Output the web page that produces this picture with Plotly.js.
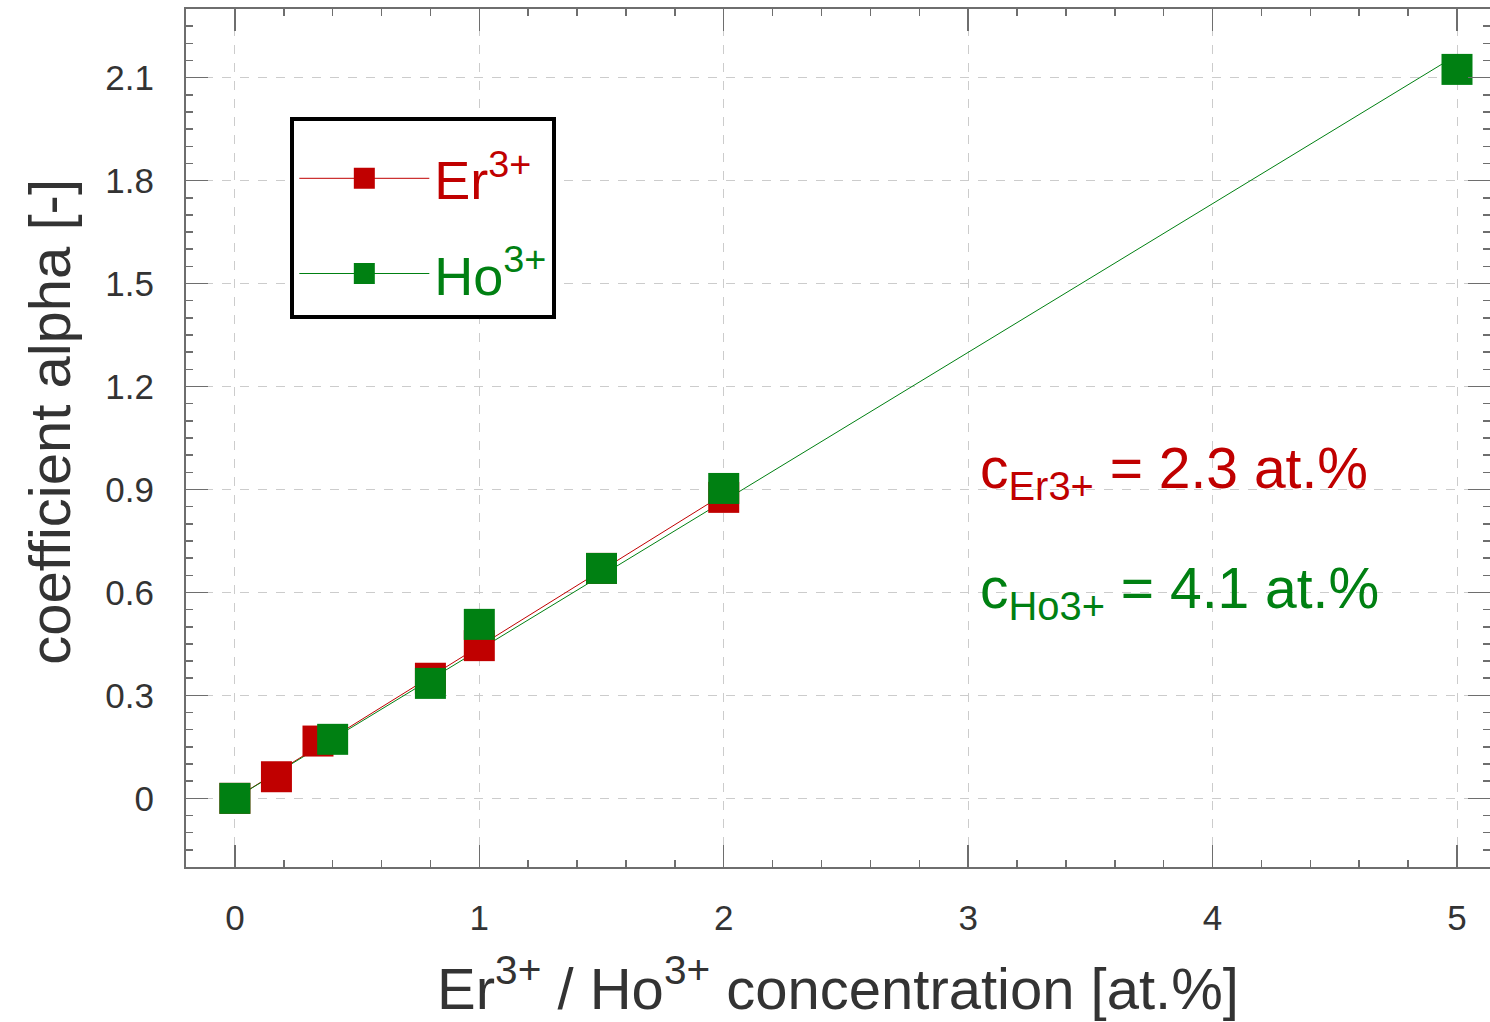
<!DOCTYPE html>
<html>
<head>
<meta charset="utf-8">
<script src="https://cdn.plot.ly/plotly-3.0.1.min.js"></script>
<style>html,body{margin:0;padding:0;background:#fff;}</style>
</head>
<body>
<div id="chart" style="width:1490px;height:1022px;"></div>
<script>
// Er3+ measured points
const erX = [0, 0.17, 0.34, 0.8, 1.0, 1.5, 2.0];
const erY = [0, 0.063, 0.167, 0.35, 0.445, 0.67, 0.877];
// Ho3+ measured points
const hoX = [0, 0.4, 0.8, 1.0, 1.5, 2.0, 5.0];
const hoY = [0, 0.172, 0.335, 0.507, 0.67, 0.903, 2.124];
// linear fit lines (end points)
const erFitX = [0, 2.0];
const erFitY = [0, 0.886];
const hoFitX = [0, 4.94];
const hoFitY = [0, 2.14];

const xTicks = [0, 1, 2, 3, 4, 5];
const yTicks = [0, 0.3, 0.6, 0.9, 1.2, 1.5, 1.8, 2.1];
const yTickText = ['0', '0.3', '0.6', '0.9', '1.2', '1.5', '1.8', '2.1'];

const RED = '#c00000';
const GREEN = '#008012';
const FONT = 'Liberation Sans, Arial, sans-serif';

const traces = [
  {x: erFitX, y: erFitY, mode: 'lines', line: {color: RED, width: 1}, showlegend: false, hoverinfo: 'skip'},
  {x: hoFitX, y: hoFitY, mode: 'lines', line: {color: GREEN, width: 1}, showlegend: false, hoverinfo: 'skip'},
  {x: erX, y: erY, mode: 'markers', marker: {symbol: 'square', size: 31, color: RED}, showlegend: false},
  {x: hoX, y: hoY, mode: 'markers', marker: {symbol: 'square', size: 31, color: GREEN}, showlegend: false},
  // legend entries
  {x: [null], y: [null], mode: 'lines+markers', legendgroup: 'er',
   name: '<span style="color:' + RED + '">Er<sup>3+</sup></span>',
   line: {color: RED, width: 1}, marker: {symbol: 'square', size: 31, color: RED, line: {color: RED, width: 5}}},
  {x: [null], y: [null], mode: 'lines+markers', legendgroup: 'ho',
   name: '<span style="color:' + GREEN + '">Ho<sup>3+</sup></span>',
   line: {color: GREEN, width: 1}, marker: {symbol: 'square', size: 31, color: GREEN, line: {color: GREEN, width: 5}}}
];

const axisCommon = {
  ticks: 'inside', ticklen: 22, tickwidth: 1.5, tickcolor: '#6e6e6e',
  showline: true, linecolor: '#6e6e6e', linewidth: 2, mirror: 'ticks',
  showgrid: true, gridcolor: '#cccccc', griddash: 'dash', gridwidth: 1,
  zeroline: false,
  tickfont: {family: FONT, size: 35, color: '#333333'}
};

const layout = {
  width: 1490, height: 1022,
  margin: {l: 186, r: 0, t: 9, b: 155},
  paper_bgcolor: '#ffffff', plot_bgcolor: '#ffffff',
  font: {family: FONT, color: '#333333'},
  xaxis: Object.assign({}, axisCommon, {
    range: [-0.2, 5.135],
    tickmode: 'array', tickvals: xTicks, ticktext: xTicks.map(String),
    ticklabelstandoff: 19,
    minor: {dtick: 0.2, tick0: 0, ticks: 'inside', ticklen: 7, tickwidth: 1.5, tickcolor: '#6e6e6e', showgrid: false},
    title: {text: 'Er<sup>3+</sup> / Ho<sup>3+</sup> concentration [at.%]', font: {family: FONT, size: 58, color: '#333333'}, standoff: 32}
  }),
  yaxis: Object.assign({}, axisCommon, {
    range: [-0.2, 2.3],
    tickmode: 'array', tickvals: yTicks, ticktext: yTickText,
    ticklabelstandoff: 23,
    minor: {dtick: 0.05, tick0: 0, ticks: 'inside', ticklen: 7, tickwidth: 1.5, tickcolor: '#6e6e6e', showgrid: false},
    title: {text: '&nbsp;&nbsp;coefficient alpha [-]', font: {family: FONT, size: 58, color: '#333333'}, standoff: 16}
  }),
  legend: {
    x: 0.08, y: 0.874, xanchor: 'left', yanchor: 'top',
    bgcolor: '#ffffff', bordercolor: '#000000', borderwidth: 4,
    font: {family: FONT, size: 54},
    title: {text: '&nbsp;', font: {family: FONT, size: 12}},
    itemwidth: 130, traceorder: 'grouped', tracegroupgap: 22
  },
  annotations: [
    {x: 3.04, y: 0.95, xref: 'x', yref: 'y', xanchor: 'left', yanchor: 'middle', showarrow: false,
     text: 'c<sub>Er3+</sub> = 2.3 at.%', font: {family: FONT, size: 57, color: RED}},
    {x: 3.04, y: 0.6, xref: 'x', yref: 'y', xanchor: 'left', yanchor: 'middle', showarrow: false,
     text: 'c<sub>Ho3+</sub> = 4.1 at.%', font: {family: FONT, size: 57, color: GREEN}}
  ]
};

Plotly.newPlot('chart', traces, layout, {displayModeBar: false, staticPlot: true});
</script>
</body>
</html>
